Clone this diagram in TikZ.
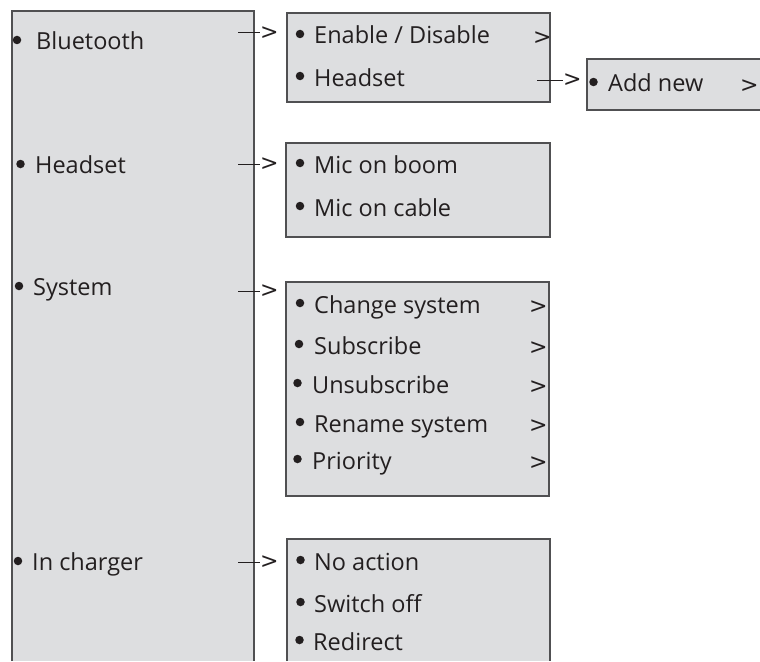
\documentclass[tikz,border=0pt]{standalone}
\usepackage{fontspec}
\setmainfont{Open Sans}
\newfontfamily\gtfont{DejaVu Sans}
\definecolor{boxfill}{RGB}{221,222,224}
\definecolor{boxline}{RGB}{80,80,82}
\definecolor{ink}{RGB}{35,31,32}
\begin{document}
\begin{tikzpicture}[x=1pt,y=-1pt,
  txt/.style={anchor=base west,inner sep=0pt,text=ink,font=\fontsize{23.5}{28}\selectfont},
  bul/.style={circle,fill=ink,inner sep=0pt,minimum size=8.5pt},
  gt/.style={anchor=west,inner sep=0pt,text=ink,font=\gtfont\fontsize{22}{26}\selectfont},
  boxf/.style={fill=boxfill,draw=none},
  boxd/.style={draw=boxline,line width=1.1pt},
  conn/.style={draw=ink,line width=1pt}]
\useasboundingbox (0,0) rectangle (760,661);
% boxes
\fill[boxf] (12,11) rectangle (254,661);
\draw[boxd] (12,661) -- (12,11) -- (254,11) -- (254,661);
\fill[boxf] (287,13) rectangle (550,102);
\draw[boxd] (287,13) rectangle (550,102);
\fill[boxf] (587,59) rectangle (760,110);
\draw[boxd] (760,59) -- (587,59) -- (587,110) -- (760,110);
\fill[boxf] (286,143) rectangle (550,237);
\draw[boxd] (286,143) rectangle (550,237);
\fill[boxf] (286,282) rectangle (549,496);
\draw[boxd] (286,282) rectangle (549,496);
\fill[boxf] (287,539) rectangle (550,661);
\draw[boxd] (287,661) -- (287,539) -- (550,539) -- (550,661);
% main items
\node[bul] (mb1) at (17,40) {};
\node[txt] (m1) at (36,50) {Bluetooth};
\node[bul] (mb2) at (20.5,164) {};
\node[txt] (m2) at (35,173) {Headset};
\node[bul] (mb3) at (19,286) {};
\node[txt] (m3) at (33,295) {System};
\node[bul] (mb4) at (18,561) {};
\node[txt] (m4) at (32,570) {In charger};
% bluetooth sub
\node[bul] at (300,34) {};
\node[txt] (s11) at (314,44) {Enable / Disable};
\node[gt] (g11) at (533,38) {>};
\node[bul] at (300,76) {};
\node[txt] (s12) at (314,86) {Headset};
% add new
\node[bul] at (593.5,82) {};
\node[txt] (s121) at (608,92) {Add new};
\node[gt] (g121) at (740,86) {>};
% headset sub
\node[bul] at (300,163) {};
\node[txt] (s21) at (314,173) {Mic on boom};
\node[bul] at (300,206) {};
\node[txt] (s22) at (314,216) {Mic on cable};
% system sub
\node[bul] at (300,303) {};
\node[txt] (s31) at (314,313) {Change system};
\node[gt] (g31) at (529,307) {>};
\node[bul] at (299,344) {};
\node[txt] (s32) at (314,354) {Subscribe};
\node[gt] (g32) at (529,348) {>};
\node[bul] at (297.5,383) {};
\node[txt] (s33) at (312,393) {Unsubscribe};
\node[gt] (g33) at (529,387) {>};
\node[bul] at (300,422) {};
\node[txt] (s34) at (314,432) {Rename system};
\node[gt] (g34) at (529,426) {>};
\node[bul] at (297.5,459) {};
\node[txt] (s35) at (312,469) {Priority};
\node[gt] (g35) at (529,463) {>};
% charger sub
\node[bul] at (300.5,560) {};
\node[txt] (s41) at (314,570) {No action};
\node[bul] at (300.5,602) {};
\node[txt] (s42) at (314,612) {Switch off};
\node[bul] at (299.5,640) {};
\node[txt] (s43) at (313,650) {Redirect};
% connectors
\coordinate (c1) at (238,33);
\node[gt] (a1) at (260,33) {>};
\draw[conn] (c1) -- (a1.west);
\coordinate (c2) at (238,164);
\node[gt] (a2) at (260,164) {>};
\draw[conn] (c2) -- (a2.west);
\coordinate (c3) at (238,291);
\node[gt] (a3) at (260,291) {>};
\draw[conn] (c3) -- (a3.west);
\coordinate (c4) at (238,562);
\node[gt] (a4) at (260,562) {>};
\draw[conn] (c4) -- (a4.west);
\coordinate (c5) at (537,80);
\node[gt] (a5) at (563,80) {>};
\draw[conn] (c5) -- (a5.west);
\end{tikzpicture}
\end{document}
